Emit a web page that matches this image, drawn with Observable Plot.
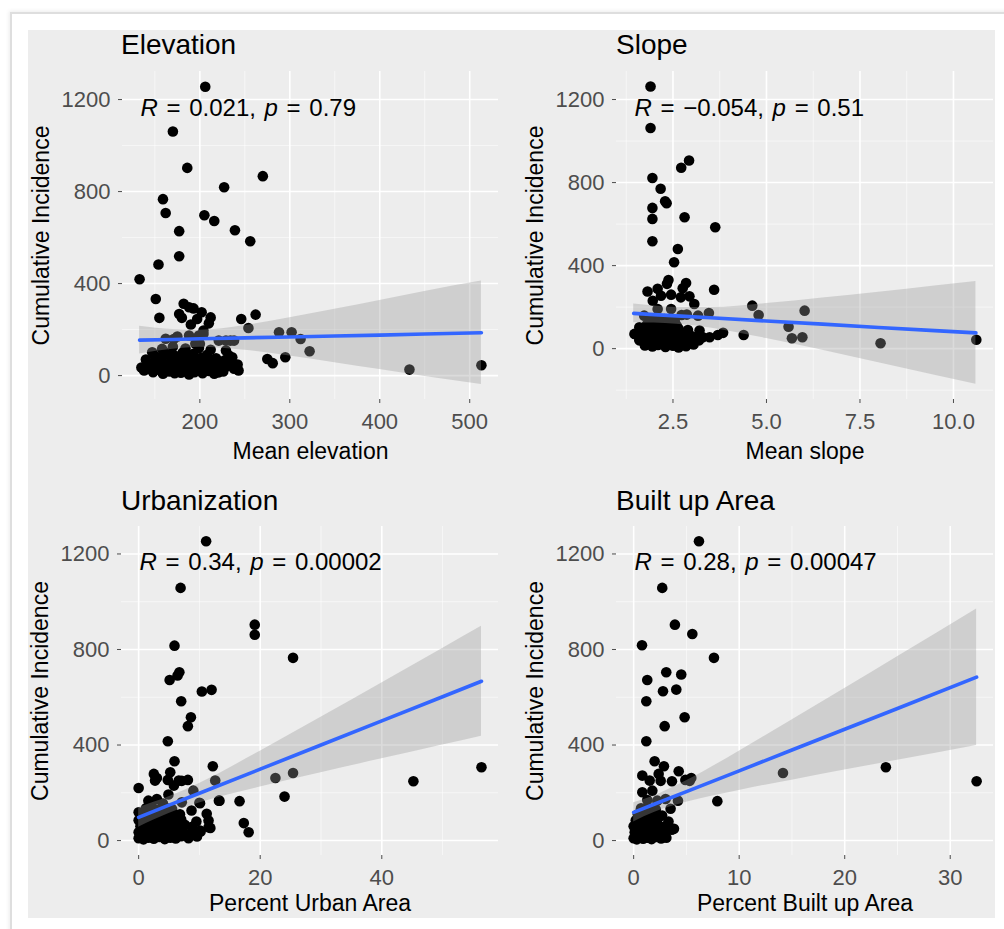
<!DOCTYPE html>
<html>
<head>
<meta charset="utf-8">
<script src="https://cdn.jsdelivr.net/npm/d3@7"></script>
<script src="https://cdn.jsdelivr.net/npm/@observablehq/plot@0.6"></script>
<style>
  html, body { margin: 0; padding: 0; background: #ffffff; }
  #wrap { position: relative; width: 1004px; height: 929px; overflow: hidden; background: #fff;
          font-family: "Liberation Sans", Arial, Helvetica, sans-serif; }
  #frame { position: absolute; left: 10px; top: 12px; width: 1010px; height: 940px;
           border-left: 2px solid #dedede; border-top: 2px solid #dedede;
           box-shadow: -1px -1px 4px rgba(0,0,0,0.08); }
  #bg { position: absolute; left: 28px; top: 30px; width: 967px; height: 888px; background: #ededed; }
  .panel { position: absolute; }
  .title { position: absolute; font-size: 28px; line-height: 28px; color: #000; white-space: nowrap; }
</style>
</head>
<body>
<div id="wrap">
  <div id="frame"></div>
  <div id="bg"></div>
</div>
<script>
// ---------------- DATA ----------------
const yTicks = [0, 400, 800, 1200];
const yMinorTicks = [-200, 200, 600, 1000];
const yLabel = "Cumulative Incidence";

// Elevation panel
const elevationTitle = "Elevation";
const elevationXLabel = "Mean elevation";
const elevationTicks = [200, 300, 400, 500];
const elevationMinor = [150, 250, 350, 450];
const elevationR = "0.021", elevationP = "0.79";
const elevationPoints = [
  [206,1256],[170,1061],[186,903],[270,867],[227,819],[159,767],[162,707],[205,697],[216,672],[177,628],
  [239,632],[256,584],[177,519],[154,483],[133,419],[151,333],[155,251],[182,312],[188,297],[193,292],
  [177,268],[180,251],[202,275],[212,253],[197,246],[190,222],[210,227],[204,196],[246,246],[262,265],
  [254,207],[288,188],[302,188],[312,159],[322,106],[295,80],[275,72],[281,54],[243,22],[433,26],
  [513,45],[234,152],[221,152],[229,152],[238,152],[204,181],[199,174],[188,174],[175,170],[162,160],
  [171,159],[195,138],[200,138],[147,101],[158,116],[229,109],[236,80],[227,65],[221,14],
  [135,35],[138,22],[142,48],[144,30],[148,15],[150,60],[152,38],[155,25],[157,75],[159,8],
  [161,50],[163,32],[165,90],[166,18],[168,62],[170,40],[172,10],[173,85],[175,28],[176,55],
  [178,70],[179,12],[181,100],[182,38],[184,22],[185,60],[187,80],[188,5],[190,45],[191,30],
  [193,95],[194,15],[196,65],[197,40],[199,120],[200,25],[202,78],[203,10],[205,50],[206,35],
  [208,90],[210,20],[212,60],[214,42],[216,8],[218,75],[220,30],[223,55],[226,18],[229,40],
  [232,88],[235,62],[238,30],[242,48],[170,125],[184,118],[160,105],[150,85],[140,70],[212,112]
];
const elevationFitX  = [133, 170, 200, 250, 300, 350, 400, 450, 513];
const elevationFit   = [154, 157, 160, 164, 168, 172, 176, 181, 186];
const elevationLower = [94, 114, 123, 110, 85, 56, 26, -4, -39];
const elevationUpper = [214, 200, 197, 218, 251, 288, 326, 366, 411];

// Slope panel
const slopeTitle = "Slope";
const slopeXLabel = "Mean slope";
const slopeTicks = [2.5, 5, 7.5, 10];
const slopeMinor = [1.25, 3.75, 6.25, 8.75];
const slopeR = "\u22120.054", slopeP = "0.51";
const slopePoints = [
  [1.90,1263],[1.90,1063],[2.93,906],[2.72,871],[1.95,822],[2.17,770],[2.29,710],[2.33,700],[1.95,678],[1.95,625],
  [2.81,633],[3.63,585],[1.95,517],[2.63,480],[2.53,416],[2.38,331],[2.34,312],[2.85,316],[2.76,291],[3.6,284],
  [1.82,275],[2.09,288],[2.18,255],[2.45,260],[2.71,247],[2.94,252],[1.96,231],[3.07,215],[4.62,207],[4.79,162],
  [6.02,183],[5.59,106],[5.68,50],[5.96,55],[4.39,66],[8.05,26],[10.61,43],[3.84,76],[3.7,66],[3.48,55],
  [3.3,55],[3.46,172],[3.17,159],[2.87,164],[2.73,162],[3.21,87],[2.09,191],[2.45,191],[1.73,159],[1.96,143],
  [2.27,143],[1.47,71],[1.6,103],[3.03,47],[2.89,23],
  [1.75,15],[1.95,10],[2.1,18],[2.3,8],[2.5,14],[2.65,6],[2.85,12],[3.05,20],
  [1.6,40],[1.8,38],[2.0,45],[2.2,35],[2.4,42],[2.6,36],[2.8,44],[3.0,33],[3.2,40],
  [1.55,65],[1.7,62],[1.9,70],[2.1,60],[2.3,68],[2.5,63],[2.7,72],[2.95,66],[3.15,60],
  [1.65,90],[1.85,95],[2.05,88],[2.25,92],[2.45,85],[2.65,96],[2.9,90],
  [1.8,115],[2.0,118],[2.2,112],[2.4,120],[2.6,110],
  [1.9,138],[2.15,135],[2.35,140],[2.55,132]
];
const slopeFitX  = [1.45, 2, 2.6, 3.5, 5, 6.5, 8, 9.5, 10.6];
const slopeFit   = [170, 164, 158, 149, 133, 118, 102, 87, 76];
const slopeLower = [125, 123, 118, 100, 49, -8, -68, -128, -172];
const slopeUpper = [215, 205, 198, 198, 217, 244, 272, 302, 324];

// Urbanization panel
const urbanTitle = "Urbanization";
const urbanXLabel = "Percent Urban Area";
const urbanTicks = [0, 20, 40];
const urbanMinor = [10, 30, 50];
const urbanR = "0.34", urbanP = "0.00002";
const urbanPoints = [
  [11.1,1253],[6.9,1058],[19.1,904],[19.1,862],[25.4,765],[5.9,816],[6.7,705],[6.4,691],[5.1,672],[10.4,624],
  [12.0,631],[7.0,583],[8.6,516],[8.1,479],[4.8,416],[56.4,307],[45.2,248],[22.5,262],[25.4,283],[24.0,184],
  [12.2,311],[12.6,251],[13.2,167],[16.6,165],[17.3,73],[18.1,35],[0,220],[5.9,332],[2.5,279],[5.2,286],
  [2.7,251],[4.8,254],[6.6,251],[8.1,254],[9.0,209],[10.0,158],[11.2,112],[11.5,56],[3.0,262],[7.1,250],
  [1.6,167],[3.0,174],[4.9,193],[7.1,160],[10.1,156],[13.3,167],[11.5,84],[11.8,53],[8.7,126],[10.1,42],
  [9.6,17],[0,118],[5.8,230],
  [0,10],[0.8,5],[1.6,12],[2.5,8],[3.4,15],[4.3,6],[5.2,12],[6.1,9],[7.0,18],[8.2,10],
  [0,35],[1.0,30],[2.0,38],[3.0,32],[4.0,40],[5.0,28],[6.0,36],[7.2,42],[8.5,30],[10.2,38],
  [0.3,60],[1.3,55],[2.3,62],[3.3,58],[4.3,65],[5.3,55],[6.5,60],[7.6,66],[8.8,58],
  [0,85],[0.8,88],[1.8,82],[2.8,90],[3.8,85],[4.8,92],[6.0,80],[7.0,88],[9.5,80],
  [0.5,110],[1.5,105],[2.6,112],[3.6,108],[4.6,115],[5.6,102],[6.8,110],
  [1.2,135],[2.2,140],[3.2,130],[4.4,138],[5.5,132],[2.0,160],[4.0,155]
];
const urbanFitX  = [0, 5, 10, 20, 30, 40, 50, 56.4];
const urbanFit   = [97, 148, 198, 299, 400, 501, 602, 667];
const urbanLower = [56, 113, 157, 224, 284, 342, 400, 437];
const urbanUpper = [138, 183, 239, 374, 516, 660, 804, 897];

// Built up area panel
const builtTitle = "Built up Area";
const builtXLabel = "Percent Built up Area";
const builtTicks = [0, 10, 20, 30];
const builtMinor = [5, 15, 25];
const builtR = "0.28", builtP = "0.00047";
const builtPoints = [
  [6.19,1253],[2.71,1058],[3.91,904],[5.56,865],[0.79,818],[7.61,765],[3.09,705],[4.51,695],[1.29,672],[2.78,625],
  [4.04,632],[1.2,583],[4.83,516],[2.94,479],[1.2,416],[23.9,307],[32.5,248],[14.15,283],[7.93,165],[4.2,167],
  [3.5,133],[3.82,49],[1.99,332],[2.87,311],[4.27,290],[5.46,262],[0.82,272],[2.37,279],[1.52,251],[3.63,248],
  [4.9,254],[2.56,250],[5.31,250],[0.82,202],[1.77,209],[1.29,170],[2.24,167],[3.03,174],[0.5,112],
  [0,10],[0.3,5],[0.6,14],[0.9,8],[1.3,12],[1.7,6],[2.1,15],[2.6,9],[3.1,12],
  [0.1,35],[0.4,30],[0.8,38],[1.2,32],[1.6,40],[2.0,34],[2.5,42],[3.0,36],[3.6,45],
  [0,60],[0.3,58],[0.7,65],[1.1,55],[1.5,62],[1.9,68],[2.4,60],[2.9,58],
  [0.2,85],[0.5,88],[0.9,82],[1.3,90],[1.8,85],[2.3,92],[3.3,80],
  [0.4,110],[0.9,115],[1.4,108],[2.0,112],[2.7,105],
  [0.7,135],[1.3,140],[2.1,130]
];
const builtFitX  = [0, 2, 5, 10, 15, 20, 25, 32.5];
const builtFit   = [118, 153, 205, 292, 379, 466, 553, 684];
const builtLower = [78, 118, 160, 210, 253, 295, 336, 398];
const builtUpper = [158, 188, 250, 374, 505, 637, 770, 970];

// ---------------- DRAWING ----------------
const FONT = '"Liberation Sans", Arial, Helvetica, sans-serif';
const wrap = document.getElementById("wrap");

function makePanel(c) {
  const fit = c.fitX.map((x, i) => ({x, fit: c.fit[i], lo: c.lo[i], hi: c.hi[i]}));
  const stat = `R = ${c.r}, p = ${c.p}`;
  const yMinor = yMinorTicks.filter(v => v > c.yDomain[0] && v < c.yDomain[1]);
  const plot = Plot.plot({
    width: c.width, height: c.height,
    marginLeft: c.ml, marginRight: c.mr, marginTop: c.mt, marginBottom: c.mb,
    x: {domain: c.xDomain},
    y: {domain: c.yDomain},
    style: {background: "transparent", fontFamily: FONT, overflow: "visible"},
    marks: [
      Plot.gridX(c.xMinor, {stroke: "white", strokeOpacity: 0.7, strokeWidth: 0.8}),
      Plot.gridY(yMinor, {stroke: "white", strokeOpacity: 0.7, strokeWidth: 0.8}),
      Plot.gridX(c.xTicks, {stroke: "white", strokeOpacity: 1, strokeWidth: 1.6}),
      Plot.gridY(yTicks, {stroke: "white", strokeOpacity: 1, strokeWidth: 1.6}),
      Plot.dot(c.points, {x: d => d[0], y: d => d[1], r: 5.3, fill: "black", stroke: "none"}),
      Plot.areaY(fit, {x: "x", y1: "lo", y2: "hi", fill: "#999999", fillOpacity: 0.35, curve: "monotone-x"}),
      Plot.line(fit, {x: "x", y: "fit", stroke: "#3366FF", strokeWidth: 3.6}),
      Plot.axisX(c.xTicks, {tickSize: 4, tickPadding: 10, fontSize: 22, color: "#4d4d4d", tickFormat: c.xFormat, label: null}),
      Plot.axisY(yTicks, {tickSize: 4, tickPadding: 8, fontSize: 22, color: "#4d4d4d", tickFormat: d => String(d), label: null}),
      Plot.text([c.xLabel], {text: d => d, frameAnchor: "bottom", textAnchor: "middle", lineAnchor: "bottom", dy: c.xLabelDy, fontSize: 23, fill: "black"}),
      Plot.text([yLabel], {text: d => d, frameAnchor: "left", textAnchor: "middle", rotate: -90, lineAnchor: "top", dx: -90, fontSize: 23, fill: "black"}),
      Plot.text([stat], {text: d => d, frameAnchor: "top-left", textAnchor: "start", lineAnchor: "top", dx: 18, dy: c.statDy, fontSize: 24, fill: "black"})
    ]
  });
  // italicise R and p in the statistic label
  plot.querySelectorAll("text").forEach(t => {
    if (t.textContent === stat) {
      t.textContent = "";
      t.setAttribute("word-spacing", "2px");
      const parts = [["R", true], [" = " + c.r + ", ", false], ["p", true], [" = " + c.p, false]];
      for (const [s, it] of parts) {
        const ts = document.createElementNS("http://www.w3.org/2000/svg", "tspan");
        ts.textContent = s;
        if (it) ts.setAttribute("font-style", "italic");
        t.appendChild(ts);
      }
    }
  });
  const div = document.createElement("div");
  div.className = "panel";
  div.style.left = c.left + "px";
  div.style.top = c.top + "px";
  div.style.width = c.width + "px";
  div.style.height = c.height + "px";
  div.appendChild(plot);
  wrap.appendChild(div);

  const title = document.createElement("div");
  title.className = "title";
  title.textContent = c.title;
  title.style.left = c.titleLeft + "px";
  title.style.top = c.titleTop + "px";
  wrap.appendChild(title);
}

makePanel({
  title: elevationTitle, titleLeft: 121, titleTop: 31,
  left: 28, top: 30, width: 474, height: 440, ml: 94, mr: 4, mt: 41, mb: 71,
  xDomain: [114, 532], yDomain: [-104, 1322],
  xTicks: elevationTicks, xMinor: elevationMinor, xFormat: d => String(d),
  points: elevationPoints, fitX: elevationFitX, fit: elevationFit, lo: elevationLower, hi: elevationUpper,
  r: elevationR, p: elevationP, xLabel: elevationXLabel, xLabelDy: 59, statDy: 27
});
makePanel({
  title: slopeTitle, titleLeft: 616, titleTop: 31,
  left: 502, top: 30, width: 493, height: 440, ml: 114, mr: 2, mt: 41, mb: 71,
  xDomain: [0.99, 11.07], yDomain: [-245, 1335],
  xTicks: slopeTicks, xMinor: slopeMinor, xFormat: d => d.toFixed(1),
  points: slopePoints, fitX: slopeFitX, fit: slopeFit, lo: slopeLower, hi: slopeUpper,
  r: slopeR, p: slopeP, xLabel: slopeXLabel, xLabelDy: 59, statDy: 27
});
makePanel({
  title: urbanTitle, titleLeft: 121, titleTop: 487,
  left: 28, top: 470, width: 474, height: 448, ml: 93, mr: 4, mt: 56, mb: 63,
  xDomain: [-2.82, 59.2], yDomain: [-62.6, 1315],
  xTicks: urbanTicks, xMinor: urbanMinor, xFormat: d => String(d),
  points: urbanPoints, fitX: urbanFitX, fit: urbanFit, lo: urbanLower, hi: urbanUpper,
  r: urbanR, p: urbanP, xLabel: urbanXLabel, xLabelDy: 55, statDy: 26
});
makePanel({
  title: builtTitle, titleLeft: 616, titleTop: 487,
  left: 502, top: 470, width: 493, height: 448, ml: 114, mr: 2, mt: 56, mb: 63,
  xDomain: [-1.625, 34.1], yDomain: [-62.6, 1315],
  xTicks: builtTicks, xMinor: builtMinor, xFormat: d => String(d),
  points: builtPoints, fitX: builtFitX, fit: builtFit, lo: builtLower, hi: builtUpper,
  r: builtR, p: builtP, xLabel: builtXLabel, xLabelDy: 55, statDy: 26
});
</script>
</body>
</html>
